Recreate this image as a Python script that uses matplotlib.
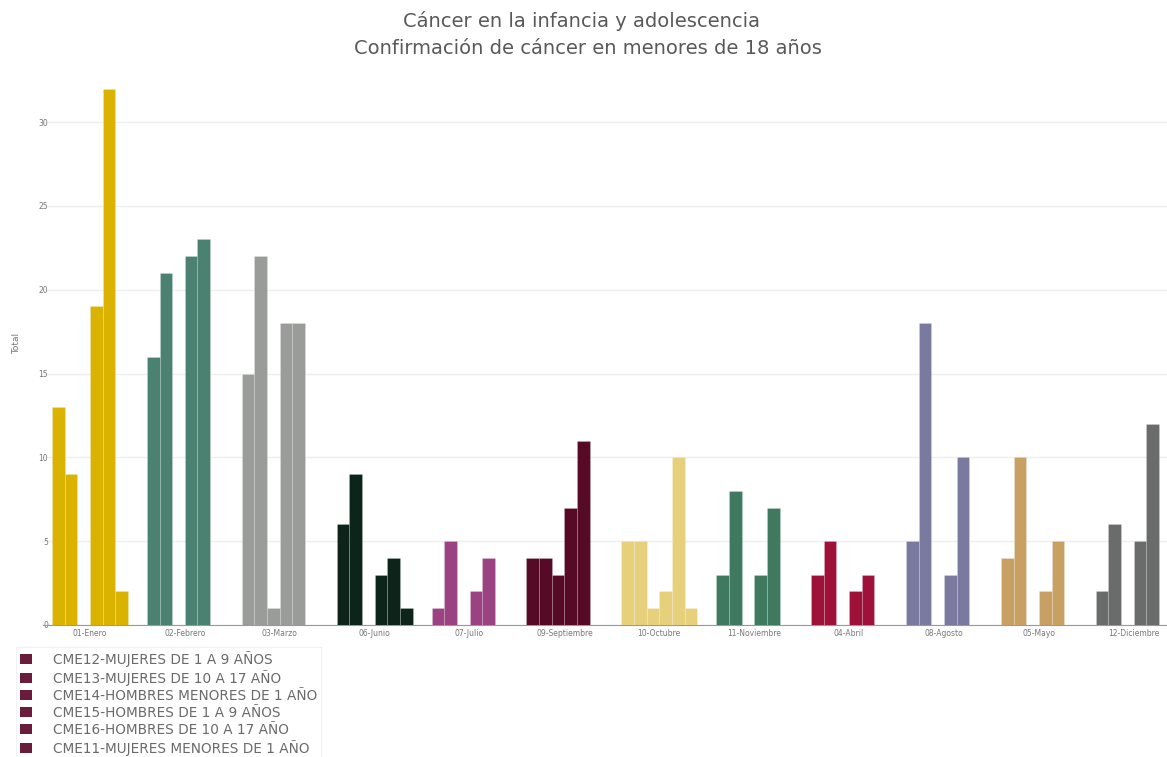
import numpy as np
import matplotlib
matplotlib.use("Agg")
import matplotlib.pyplot as plt
from matplotlib.patches import Patch

# Month categories (in the order shown on the x axis)
months = ['01-Enero', '02-Febrero', '03-Marzo', '06-Junio', '07-Julio', '09-Septiembre',
          '10-Octubre', '11-Noviembre', '04-Abril', '08-Agosto', '05-Mayo', '12-Diciembre']

# Series (legend order)
series_names = ['CME12-MUJERES DE 1 A 9 AÑOS',
                'CME13-MUJERES DE 10 A 17 AÑO',
                'CME14-HOMBRES MENORES DE 1 AÑO',
                'CME15-HOMBRES DE 1 A 9 AÑOS',
                'CME16-HOMBRES DE 10 A 17 AÑO',
                'CME11-MUJERES MENORES DE 1 AÑO']

cme12 = [13, 16, 15, 6, 1, 4, 5, 3, 3, 5, 4, 2]
cme13 = [9, 21, 22, 9, 5, 4, 5, 8, 5, 18, 10, 6]
cme14 = [0, 0, 1, 0, 0, 3, 1, 0, 0, 0, 0, 0]
cme15 = [19, 22, 18, 3, 2, 7, 2, 3, 2, 3, 2, 5]
cme16 = [32, 23, 18, 4, 4, 11, 10, 7, 3, 10, 5, 12]
cme11 = [2, 0, 0, 1, 0, 0, 1, 0, 0, 0, 0, 0]
series_values = [cme12, cme13, cme14, cme15, cme16, cme11]

# one colour per month (every series in a month shares it)
month_colors = ['#d9b300', '#4b8170', '#9a9c9a', '#0c2419', '#9b4282', '#560a26',
                '#e6d07c', '#3f7a60', '#9e1239', '#7a7aa0', '#c9a064', '#6a6b6b']
legend_color = '#6a1d3b'

fig = plt.figure(figsize=(11.67, 7.57), dpi=100)
ax = fig.add_axes([42.5 / 1167, 1 - 625 / 757, 1 - 42.5 / 1167, (625 - 60) / 757])

x = np.arange(len(months))
n = len(series_values)
width = 0.8 / n
for i, vals in enumerate(series_values):
    offs = (i - (n - 1) / 2) * width
    ax.bar(x + offs, vals, width, color=month_colors,
           edgecolor=(1, 1, 1, 0.2), linewidth=0.6, zorder=3)

ax.set_xlim(-0.5, 11.35)
ax.set_ylim(0, 33.7)
ax.set_yticks([0, 5, 10, 15, 20, 25, 30])
ax.set_xticks(x)
ax.set_xticklabels(months, fontsize=5.5, color='#777777')
ax.tick_params(axis='y', labelsize=5.5, labelcolor='#777777', length=0, pad=-4)
ax.tick_params(axis='x', length=0, pad=3)
ax.grid(axis='y', color='#eeeeee', linewidth=1, zorder=0)
for s in ['top', 'right', 'left']:
    ax.spines[s].set_visible(False)
ax.spines['bottom'].set_color('#999999')
ax.spines['bottom'].set_linewidth(0.8)

fig.text(17 / 1167, 1 - 343 / 757, 'Total', rotation=90, ha='center', va='center',
         fontsize=6.5, color='#777777')

# title
fig.text(0.498, 1 - 21 / 757, 'Cáncer en la infancia y adolescencia',
         ha='center', va='center', fontsize=14, color='#595959')
fig.text(0.504, 1 - 48 / 757, 'Confirmación de cáncer en menores de 18 años',
         ha='center', va='center', fontsize=14, color='#595959')

# legend
handles = [Patch(facecolor=legend_color, edgecolor='none') for _ in series_names]
leg = fig.legend(handles, series_names, loc='upper left',
                 bbox_to_anchor=(16 / 1167, 1 - 647 / 757), borderaxespad=0,
                 fontsize=9.8, labelspacing=0.22, handlelength=0.85, handleheight=0.75,
                 handletextpad=1.55, borderpad=0.3, frameon=True, fancybox=False)
leg.get_frame().set_edgecolor('#eeeeee')
leg.get_frame().set_linewidth(0.8)
for t in leg.get_texts():
    t.set_color('#6a6a6a')

fig.savefig('out.png', dpi=100)
